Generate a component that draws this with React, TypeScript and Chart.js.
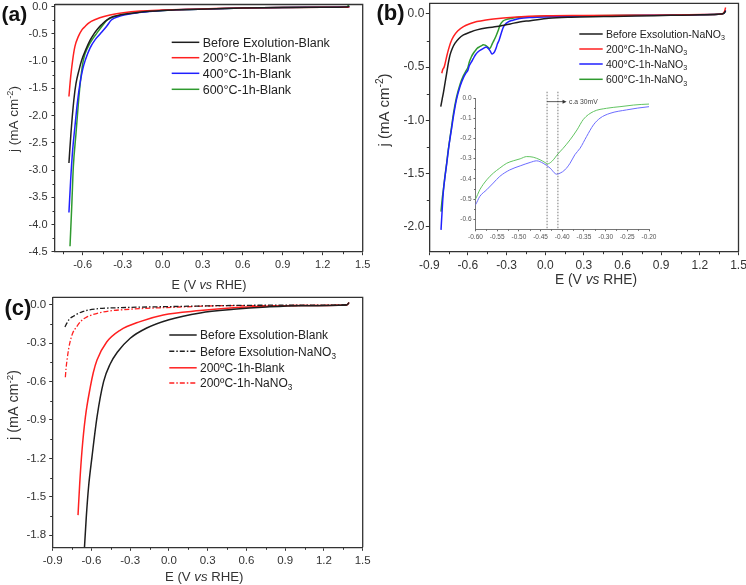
import React, { useEffect, useRef } from "react";
import { Chart, registerables } from "chart.js";
Chart.register(...registerables);

const FONT = '"Liberation Sans", Arial, Helvetica, sans-serif';

type Pt = [number, number];
type Seg = { t: string; s?: "i" | "sub" | "sup" };

// ---------------- Panel (a) data ----------------
const A_BEFORE: Pt[] = [[-0.703,-2.87],[-0.688,-2.33],[-0.666,-1.71],[-0.65,-1.41],[-0.628,-1.17],[-0.607,-0.98],[-0.575,-0.78],[-0.545,-0.62],[-0.513,-0.49],[-0.485,-0.4],[-0.458,-0.33],[-0.42,-0.245],[-0.37,-0.18],[-0.315,-0.15],[-0.25,-0.125],[-0.2,-0.11],[-0.1,-0.085],[0,-0.068],[0.1,-0.058],[0.2,-0.05],[0.4,-0.036],[0.6,-0.026],[0.9,-0.016],[1.2,-0.01],[1.37,-0.005],[1.39,0],[1.4,0.01]];
const A_200: Pt[] = [[-0.703,-1.65],[-0.69,-1.29],[-0.675,-0.98],[-0.658,-0.73],[-0.633,-0.55],[-0.607,-0.43],[-0.58,-0.36],[-0.558,-0.305],[-0.495,-0.226],[-0.44,-0.18],[-0.395,-0.152],[-0.295,-0.11],[-0.17,-0.08],[0,-0.062],[0.2,-0.048],[0.4,-0.035],[0.6,-0.025],[0.9,-0.016],[1.2,-0.01],[1.38,-0.01],[1.4,-0.005]];
const A_400: Pt[] = [[-0.703,-3.78],[-0.69,-3.18],[-0.675,-2.63],[-0.658,-2.2],[-0.64,-1.77],[-0.62,-1.41],[-0.6,-1.15],[-0.58,-0.98],[-0.545,-0.76],[-0.505,-0.6],[-0.465,-0.49],[-0.42,-0.36],[-0.385,-0.245],[-0.33,-0.18],[-0.28,-0.15],[-0.2,-0.115],[-0.1,-0.088],[0,-0.07],[0.2,-0.05],[0.4,-0.036],[0.6,-0.026],[0.9,-0.016],[1.2,-0.01],[1.4,-0.005]];
const A_600: Pt[] = [[-0.695,-4.4],[-0.682,-3.67],[-0.67,-2.94],[-0.65,-2.33],[-0.63,-1.71],[-0.613,-1.29],[-0.595,-0.98],[-0.558,-0.73],[-0.525,-0.59],[-0.495,-0.49],[-0.455,-0.36],[-0.415,-0.245],[-0.345,-0.17],[-0.3,-0.145],[-0.2,-0.11],[-0.1,-0.085],[0,-0.07],[0.2,-0.05],[0.4,-0.036],[0.6,-0.026],[0.9,-0.016],[1.2,-0.01],[1.37,-0.004],[1.385,0],[1.395,0.04]];
const A_X_TICKS = [-0.6, -0.3, 0, 0.3, 0.6, 0.9, 1.2, 1.5];
const A_X_MINOR = [-0.75, -0.45, -0.15, 0.15, 0.45, 0.75, 1.05, 1.35];
const A_Y_TICKS = [0, -0.5, -1, -1.5, -2, -2.5, -3, -3.5, -4, -4.5];
const A_Y_MINOR = [-0.25, -0.75, -1.25, -1.75, -2.25, -2.75, -3.25, -3.75, -4.25];
const A_LABELS: Seg[][] = [
  [{ t: "Before Exolution-Blank" }],
  [{ t: "200°C-1h-Blank" }],
  [{ t: "400°C-1h-Blank" }],
  [{ t: "600°C-1h-Blank" }],
];

// ---------------- Panel (b) data ----------------
const B_BEFORE: Pt[] = [[-0.811,-0.871],[-0.8,-0.8],[-0.791,-0.745],[-0.778,-0.65],[-0.765,-0.557],[-0.752,-0.46],[-0.739,-0.385],[-0.72,-0.32],[-0.7,-0.275],[-0.67,-0.23],[-0.635,-0.197],[-0.58,-0.17],[-0.531,-0.15],[-0.45,-0.13],[-0.376,-0.119],[-0.272,-0.094],[-0.2,-0.075],[-0.116,-0.063],[0.026,-0.04],[0.2,-0.03],[0.455,-0.025],[0.7,-0.02],[0.974,-0.013],[1.2,-0.008],[1.363,0],[1.385,0.005],[1.4,0.03]];
const B_200: Pt[] = [[-0.803,-0.557],[-0.795,-0.52],[-0.785,-0.5],[-0.778,-0.47],[-0.765,-0.4],[-0.752,-0.338],[-0.735,-0.27],[-0.713,-0.213],[-0.68,-0.16],[-0.635,-0.119],[-0.58,-0.09],[-0.531,-0.072],[-0.46,-0.056],[-0.402,-0.047],[-0.246,-0.031],[0.013,-0.018],[0.3,-0.015],[0.7,-0.012],[1,-0.01],[1.3,-0.005],[1.37,0],[1.39,0.02],[1.4,0.06]];
const B_400: Pt[] = [[-0.809,-2.03],[-0.8,-1.84],[-0.791,-1.67],[-0.778,-1.53],[-0.765,-1.41],[-0.752,-1.28],[-0.739,-1.17],[-0.726,-1.07],[-0.713,-0.965],[-0.69,-0.81],[-0.661,-0.68],[-0.635,-0.6],[-0.615,-0.555],[-0.6,-0.528],[-0.59,-0.487],[-0.574,-0.454],[-0.559,-0.421],[-0.544,-0.388],[-0.521,-0.356],[-0.497,-0.336],[-0.474,-0.319],[-0.459,-0.311],[-0.444,-0.323],[-0.428,-0.347],[-0.413,-0.377],[-0.405,-0.372],[-0.394,-0.356],[-0.382,-0.323],[-0.371,-0.281],[-0.359,-0.249],[-0.344,-0.191],[-0.328,-0.133],[-0.313,-0.1],[-0.29,-0.076],[-0.252,-0.059],[-0.2,-0.043],[-0.1,-0.033],[0,-0.028],[0.2,-0.022],[0.5,-0.017],[0.8,-0.013],[1.1,-0.01],[1.3,-0.005],[1.37,0],[1.39,0.01],[1.4,0.035]];
const B_600: Pt[] = [[-0.809,-1.858],[-0.8,-1.74],[-0.791,-1.654],[-0.778,-1.52],[-0.765,-1.4],[-0.752,-1.27],[-0.739,-1.16],[-0.726,-1.05],[-0.713,-0.94],[-0.69,-0.79],[-0.661,-0.66],[-0.635,-0.58],[-0.615,-0.535],[-0.6,-0.5],[-0.59,-0.454],[-0.574,-0.405],[-0.559,-0.372],[-0.544,-0.347],[-0.528,-0.323],[-0.513,-0.311],[-0.497,-0.301],[-0.482,-0.29],[-0.467,-0.293],[-0.451,-0.306],[-0.44,-0.319],[-0.434,-0.326],[-0.424,-0.314],[-0.41,-0.277],[-0.398,-0.249],[-0.382,-0.207],[-0.366,-0.158],[-0.351,-0.105],[-0.328,-0.067],[-0.298,-0.051],[-0.267,-0.043],[-0.236,-0.035],[-0.2,-0.03],[-0.1,-0.026],[0,-0.022],[0.3,-0.018],[0.7,-0.013],[1,-0.01],[1.3,-0.005],[1.37,0],[1.39,0.01],[1.4,0.03]];
const B_X_TICKS = [-0.9, -0.6, -0.3, 0, 0.3, 0.6, 0.9, 1.2, 1.5];
const B_X_MINOR = [-0.75, -0.45, -0.15, 0.15, 0.45, 0.75, 1.05, 1.35];
const B_Y_TICKS = [0, -0.5, -1, -1.5, -2];
const B_Y_MINOR = [-0.25, -0.75, -1.25, -1.75];
const B_LABELS: Seg[][] = [
  [{ t: "Before Exsolution-NaNO" }, { t: "3", s: "sub" }],
  [{ t: "200°C-1h-NaNO" }, { t: "3", s: "sub" }],
  [{ t: "400°C-1h-NaNO" }, { t: "3", s: "sub" }],
  [{ t: "600°C-1h-NaNO" }, { t: "3", s: "sub" }],
];

// ---------------- Inset data (zoom of panel b) ----------------
const IN_X_TICKS = [-0.6, -0.55, -0.5, -0.45, -0.4, -0.35, -0.3, -0.25, -0.2];
const IN_X_MINOR = [-0.575, -0.525, -0.475, -0.425, -0.375, -0.325, -0.275, -0.225];
const IN_Y_TICKS = [0, -0.1, -0.2, -0.3, -0.4, -0.5, -0.6];
const IN_Y_MINOR = [-0.05, -0.15, -0.25, -0.35, -0.45, -0.55];
const IN_MARKERS = [-0.435, -0.41];
const IN_ARROW = { from: -0.435, to: -0.39, y: -0.018, label: "c.a 30mV" };

// ---------------- Panel (c) data ----------------
const C_BEFORE_BLANK: Pt[] = [[-0.657,-1.95],[-0.64,-1.66],[-0.622,-1.42],[-0.596,-1.19],[-0.557,-0.877],[-0.506,-0.6],[-0.454,-0.46],[-0.4,-0.37],[-0.3,-0.26],[-0.172,-0.18],[0,-0.115],[0.242,-0.062],[0.5,-0.034],[0.757,-0.016],[1.015,-0.006],[1.376,0],[1.395,0.02]];
const C_BEFORE_NANO3: Pt[] = [[-0.805,-0.172],[-0.789,-0.14],[-0.774,-0.115],[-0.74,-0.088],[-0.663,-0.05],[-0.56,-0.03],[-0.403,-0.022],[-0.016,-0.013],[0.757,-0.002],[1.376,0],[1.39,0.01]];
const C_200_BLANK: Pt[] = [[-0.704,-1.644],[-0.691,-1.4],[-0.673,-1.137],[-0.647,-0.877],[-0.609,-0.643],[-0.586,-0.53],[-0.557,-0.43],[-0.482,-0.29],[-0.379,-0.198],[-0.224,-0.13],[-0.044,-0.078],[0.242,-0.044],[0.5,-0.022],[0.757,-0.01],[1,-0.005],[1.376,0],[1.395,0.02]];
const C_200_NANO3: Pt[] = [[-0.802,-0.565],[-0.797,-0.5],[-0.789,-0.43],[-0.776,-0.34],[-0.766,-0.29],[-0.745,-0.22],[-0.714,-0.17],[-0.68,-0.125],[-0.637,-0.095],[-0.508,-0.055],[-0.3,-0.033],[-0.016,-0.02],[0.5,-0.005],[1.376,0],[1.4,0.03]];
const C_X_TICKS = [-0.9, -0.6, -0.3, 0, 0.3, 0.6, 0.9, 1.2, 1.5];
const C_X_MINOR = [-0.75, -0.45, -0.15, 0.15, 0.45, 0.75, 1.05, 1.35];
const C_Y_TICKS = [0, -0.3, -0.6, -0.9, -1.2, -1.5, -1.8];
const C_Y_MINOR = [-0.15, -0.45, -0.75, -1.05, -1.35, -1.65];
const C_LABELS: Seg[][] = [
  [{ t: "Before Exsolution-Blank" }],
  [{ t: "Before Exsolution-NaNO" }, { t: "3", s: "sub" }],
  [{ t: "200ºC-1h-Blank" }],
  [{ t: "200ºC-1h-NaNO" }, { t: "3", s: "sub" }],
];

const X_TITLE: Seg[] = [{ t: "E (V " }, { t: "vs", s: "i" }, { t: " RHE)" }];
const Y_TITLE: Seg[] = [{ t: "j (mA cm" }, { t: "-2", s: "sup" }, { t: ")" }];

const BLACK = "#1e1e1e";
const RED = "#ff2020";
const BLUE = "#2020ff";
const GREEN = "#2f9a2f";
const DASHDOT = [5, 2, 1.5, 2];

// ---------------- drawing helpers ----------------
function drawRich(ctx: CanvasRenderingContext2D, segs: Seg[], x: number, y: number, size: number, color: string, align: "left" | "center" | "right", bold = false) {
  const fontOf = (sg: Seg) => {
    const small = sg.s === "sub" || sg.s === "sup";
    return `${sg.s === "i" ? "italic " : ""}${bold ? "bold " : ""}${small ? size * 0.68 : size}px ${FONT}`;
  };
  let total = 0;
  for (const sg of segs) { ctx.font = fontOf(sg); total += ctx.measureText(sg.t).width; }
  let cx = align === "left" ? x : align === "center" ? x - total / 2 : x - total;
  ctx.fillStyle = color;
  ctx.textAlign = "left";
  ctx.textBaseline = "alphabetic";
  for (const sg of segs) {
    ctx.font = fontOf(sg);
    const dy = sg.s === "sub" ? size * 0.24 : sg.s === "sup" ? -size * 0.38 : 0;
    ctx.fillText(sg.t, cx, y + dy);
    cx += ctx.measureText(sg.t).width;
  }
}

interface SeriesDef { data: Pt[]; color: string; width?: number; dash?: number[] }
interface LegendDef { x1: number; x2: number; tx: number; rows: number[]; size: number; labels: Seg[][] }
interface PanelDef {
  w: number; h: number;
  area: { left: number; top: number; right: number; bottom: number };
  xMin: number; xMax: number; yMin: number; yMax: number;
  xTicks: number[]; xMinor: number[]; yTicks: number[]; yMinor: number[];
  xDec: number; yDec: number; tickSize: number; xPad: number; yPad: number;
  tickLen: number; minorLen: number; axisColor: string; axisWidth: number; tickColor: string;
  frame: boolean;
  series: SeriesDef[];
  label?: { text: string; x: number; y: number; size: number };
  xTitle?: { x: number; y: number; size: number };
  yTitle?: { x: number; y: number; size: number };
  legend?: LegendDef;
  extra?: (chart: any, ctx: CanvasRenderingContext2D) => void;
}

function buildConfig(p: PanelDef): any {
  const decor = {
    id: "decor",
    afterDraw(chart: any) {
      const ctx: CanvasRenderingContext2D = chart.ctx;
      const a = chart.chartArea;
      const xs = chart.scales.x;
      const ys = chart.scales.y;
      ctx.save();
      ctx.strokeStyle = p.axisColor;
      ctx.lineWidth = p.axisWidth;
      if (p.frame) {
        ctx.beginPath();
        ctx.moveTo(a.left, a.top);
        ctx.lineTo(a.right, a.top);
        ctx.lineTo(a.right, a.bottom);
        ctx.stroke();
      }
      ctx.lineWidth = 1;
      ctx.beginPath();
      for (const v of p.xMinor) {
        const px = Math.round(xs.getPixelForValue(v)) + 0.5;
        ctx.moveTo(px, a.bottom);
        ctx.lineTo(px, a.bottom + p.minorLen);
      }
      for (const v of p.yMinor) {
        const py = Math.round(ys.getPixelForValue(v)) + 0.5;
        ctx.moveTo(a.left, py);
        ctx.lineTo(a.left - p.minorLen, py);
      }
      ctx.stroke();
      if (p.label) {
        drawRich(ctx, [{ t: p.label.text }], p.label.x, p.label.y + p.label.size * 0.36, p.label.size, "#111", "left", true);
      }
      if (p.xTitle) {
        drawRich(ctx, X_TITLE, p.xTitle.x, p.xTitle.y + p.xTitle.size * 0.36, p.xTitle.size, "#333", "center");
      }
      if (p.yTitle) {
        ctx.save();
        ctx.translate(p.yTitle.x, p.yTitle.y);
        ctx.rotate(-Math.PI / 2);
        drawRich(ctx, Y_TITLE, 0, p.yTitle.size * 0.36, p.yTitle.size, "#333", "center");
        ctx.restore();
      }
      if (p.legend) {
        const L = p.legend;
        L.labels.forEach((segs, i) => {
          const s = p.series[i];
          const y = L.rows[i];
          ctx.save();
          ctx.strokeStyle = s.color;
          ctx.lineWidth = 1.5;
          ctx.setLineDash(s.dash ?? []);
          ctx.beginPath();
          ctx.moveTo(L.x1, y);
          ctx.lineTo(L.x2, y);
          ctx.stroke();
          ctx.restore();
          drawRich(ctx, segs, L.tx, y + L.size * 0.36, L.size, "#222", "left");
        });
      }
      if (p.extra) p.extra(chart, ctx);
      ctx.restore();
    },
  };

  const tickFont = { family: FONT, size: p.tickSize };
  return {
    type: "scatter",
    data: {
      datasets: p.series.map((s) => ({
        data: s.data.map(([x, y]) => ({ x, y })),
        showLine: true,
        borderColor: s.color,
        backgroundColor: s.color,
        borderWidth: s.width ?? 1.5,
        borderDash: s.dash ?? [],
        pointRadius: 0,
        pointHoverRadius: 0,
        cubicInterpolationMode: "monotone",
        fill: false,
      })),
    },
    options: {
      responsive: false,
      maintainAspectRatio: false,
      animation: false,
      devicePixelRatio: 1,
      events: [],
      layout: { padding: { left: 0, top: p.area.top, right: p.w - p.area.right, bottom: 0 } },
      plugins: { legend: { display: false }, tooltip: { enabled: false }, title: { display: false } },
      scales: {
        x: {
          type: "linear",
          position: "bottom",
          min: p.xMin,
          max: p.xMax,
          afterBuildTicks: (s: any) => { s.ticks = p.xTicks.map((v) => ({ value: v })); },
          afterFit: (s: any) => { s.height = p.h - p.area.bottom; s.paddingLeft = 0; s.paddingRight = 0; },
          ticks: { callback: (v: any) => Number(v).toFixed(p.xDec), font: tickFont, color: p.tickColor, maxRotation: 0, minRotation: 0, autoSkip: false, padding: p.xPad },
          grid: { drawOnChartArea: false, drawTicks: true, tickLength: p.tickLen, color: p.axisColor, lineWidth: 1 },
          border: { display: true, color: p.axisColor, width: p.axisWidth },
        },
        y: {
          type: "linear",
          position: "left",
          min: p.yMin,
          max: p.yMax,
          afterBuildTicks: (s: any) => { s.ticks = p.yTicks.map((v) => ({ value: v })); },
          afterFit: (s: any) => { s.width = p.area.left; s.paddingTop = 0; s.paddingBottom = 0; },
          ticks: { callback: (v: any) => Number(v).toFixed(p.yDec), font: tickFont, color: p.tickColor, autoSkip: false, padding: p.yPad },
          grid: { drawOnChartArea: false, drawTicks: true, tickLength: p.tickLen, color: p.axisColor, lineWidth: 1 },
          border: { display: true, color: p.axisColor, width: p.axisWidth },
        },
      },
    },
    plugins: [decor],
  };
}

// ---------------- panel definitions ----------------
const PANEL_A: PanelDef = {
  w: 370, h: 295,
  area: { left: 55, top: 4.5, right: 362.7, bottom: 251.7 },
  xMin: -0.8075, xMax: 1.5, yMin: -4.5, yMax: 0.04,
  xTicks: A_X_TICKS, xMinor: A_X_MINOR, yTicks: A_Y_TICKS, yMinor: A_Y_MINOR,
  xDec: 1, yDec: 1, tickSize: 11, xPad: 3, yPad: 4,
  tickLen: 3.5, minorLen: 2.5, axisColor: "#333", axisWidth: 1.3, tickColor: "#333",
  frame: true,
  series: [
    { data: A_BEFORE, color: BLACK },
    { data: A_200, color: RED },
    { data: A_400, color: BLUE },
    { data: A_600, color: GREEN },
  ],
  label: { text: "(a)", x: 1.5, y: 13.3, size: 21 },
  xTitle: { x: 209, y: 284, size: 12.6 },
  yTitle: { x: 13.5, y: 119, size: 13.5 },
  legend: { x1: 171.7, x2: 199.3, tx: 202.7, rows: [42.3, 57.7, 73.3, 89.3], size: 12.5, labels: A_LABELS },
};

const PANEL_B: PanelDef = {
  w: 376, h: 295,
  area: { left: 59.3, top: 3.3, right: 368.5, bottom: 251.7 },
  xMin: -0.9, xMax: 1.5, yMin: -2.235, yMax: 0.1,
  xTicks: B_X_TICKS, xMinor: B_X_MINOR, yTicks: B_Y_TICKS, yMinor: B_Y_MINOR,
  xDec: 1, yDec: 1, tickSize: 12, xPad: 3, yPad: 1.5,
  tickLen: 3.5, minorLen: 2.5, axisColor: "#333", axisWidth: 1.3, tickColor: "#333",
  frame: true,
  series: [
    { data: B_BEFORE, color: BLACK },
    { data: B_200, color: RED },
    { data: B_400, color: BLUE },
    { data: B_600, color: GREEN },
  ],
  label: { text: "(b)", x: 6.5, y: 12.5, size: 22 },
  xTitle: { x: 226, y: 279.3, size: 13.8 },
  yTitle: { x: 13.3, y: 110, size: 15 },
  legend: { x1: 209.3, x2: 232.7, tx: 236, rows: [34, 49, 64, 79.3], size: 10.5, labels: B_LABELS },
};

const PANEL_INSET: PanelDef = {
  w: 220, h: 165,
  area: { left: 35.5, top: 13, right: 209, bottom: 144.3 },
  xMin: -0.6, xMax: -0.2, yMin: -0.65, yMax: 0,
  xTicks: IN_X_TICKS, xMinor: IN_X_MINOR, yTicks: IN_Y_TICKS, yMinor: IN_Y_MINOR,
  xDec: 2, yDec: 1, tickSize: 6.5, xPad: 2, yPad: 2,
  tickLen: 2, minorLen: 1.5, axisColor: "#666", axisWidth: 0.9, tickColor: "#555",
  frame: false,
  series: [
    { data: B_400, color: "#6c6cff", width: 1 },
    { data: B_600, color: "#62c462", width: 1 },
  ],
  extra: (chart, ctx) => {
    const xs = chart.scales.x;
    const ys = chart.scales.y;
    const a = chart.chartArea;
    ctx.save();
    ctx.strokeStyle = "#555";
    ctx.lineWidth = 0.8;
    ctx.setLineDash([1.5, 1.5]);
    ctx.beginPath();
    for (const m of IN_MARKERS) {
      const px = xs.getPixelForValue(m);
      ctx.moveTo(px, ys.getPixelForValue(0.031));
      ctx.lineTo(px, a.bottom);
    }
    ctx.stroke();
    ctx.setLineDash([]);
    const x1 = xs.getPixelForValue(IN_ARROW.from);
    const x2 = xs.getPixelForValue(IN_ARROW.to);
    const y = ys.getPixelForValue(IN_ARROW.y);
    ctx.strokeStyle = "#333";
    ctx.beginPath();
    ctx.moveTo(x1, y);
    ctx.lineTo(x2 - 3, y);
    ctx.stroke();
    ctx.fillStyle = "#333";
    ctx.beginPath();
    ctx.moveTo(x2, y);
    ctx.lineTo(x2 - 4, y - 2);
    ctx.lineTo(x2 - 4, y + 2);
    ctx.closePath();
    ctx.fill();
    drawRich(ctx, [{ t: IN_ARROW.label }], x2 + 2.5, y + 2.4, 6.8, "#444", "left");
    ctx.restore();
  },
};

const PANEL_C: PanelDef = {
  w: 380, h: 290,
  area: { left: 52.7, top: 2.3, right: 362.7, bottom: 252.3 },
  xMin: -0.9, xMax: 1.5, yMin: -1.896, yMax: 0.06,
  xTicks: C_X_TICKS, xMinor: C_X_MINOR, yTicks: C_Y_TICKS, yMinor: C_Y_MINOR,
  xDec: 1, yDec: 1, tickSize: 11.5, xPad: 3, yPad: 3,
  tickLen: 3.5, minorLen: 2.5, axisColor: "#333", axisWidth: 1.3, tickColor: "#333",
  frame: true,
  series: [
    { data: C_BEFORE_BLANK, color: BLACK },
    { data: C_BEFORE_NANO3, color: BLACK, dash: DASHDOT, width: 1.3 },
    { data: C_200_BLANK, color: RED },
    { data: C_200_NANO3, color: RED, dash: DASHDOT, width: 1.3 },
  ],
  label: { text: "(c)", x: 4.5, y: 12, size: 22 },
  xTitle: { x: 204.2, y: 281, size: 13.2 },
  yTitle: { x: 13.3, y: 110, size: 14.3 },
  legend: { x1: 169.3, x2: 196.7, tx: 200, rows: [40, 56.3, 72.8, 88], size: 12, labels: C_LABELS },
};

function PanelChart({ def, left, top }: { def: PanelDef; left: number; top: number }) {
  const ref = useRef<HTMLCanvasElement>(null);
  useEffect(() => {
    const chart = new Chart(ref.current as HTMLCanvasElement, buildConfig(def));
    return () => chart.destroy();
  }, []);
  return (
    <canvas
      ref={ref}
      width={def.w}
      height={def.h}
      style={{ position: "absolute", left, top, width: def.w, height: def.h }}
    />
  );
}

export default function App() {
  return (
    <div style={{ position: "fixed", left: 0, top: 0, width: 746, height: 585, background: "#fff", overflow: "hidden" }}>
      <PanelChart def={PANEL_A} left={0} top={0} />
      <PanelChart def={PANEL_B} left={370} top={0} />
      <PanelChart def={PANEL_INSET} left={440} top={85} />
      <PanelChart def={PANEL_C} left={0} top={295} />
    </div>
  );
}
